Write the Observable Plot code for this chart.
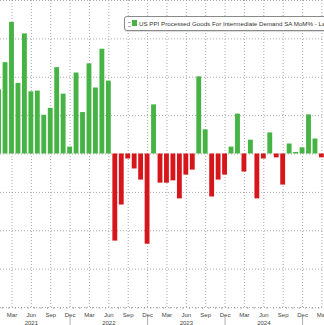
<!DOCTYPE html>
<html>
<head>
<meta charset="utf-8">
<script src="https://cdn.jsdelivr.net/npm/d3@7"></script>
<script src="https://cdn.jsdelivr.net/npm/@observablehq/plot@0.6"></script>
<style>
  html, body { margin: 0; padding: 0; background: #fff; overflow: hidden; width: 324px; height: 325px; }
  #wrap { position: relative; width: 324px; height: 325px; overflow: hidden; }
  #legend {
    position: absolute; left: 124px; top: 16px; width: 230px; height: 13px;
    border: 1px solid #8a8a8a; border-radius: 3px; background: #fff;
    font-family: "Liberation Sans", Arial, sans-serif; font-size: 6.2px; color: #333;
    white-space: nowrap; line-height: 13px; box-shadow: 0 1px 1px rgba(0,0,0,0.15);
  }
  #legend .ic { display: inline-block; width: 3px; height: 3px; border-top: 1px solid #aaa; border-bottom: 1px solid #aaa; margin: 0 1px 0 3px; vertical-align: middle; }
  #legend .sw { display: inline-block; width: 5px; height: 6px; background: #45b445; margin-right: 2px; vertical-align: middle; position: relative; top: -1px; }
</style>
</head>
<body>
<div id="wrap">
  <div id="chart"></div>
  <div id="legend"><span class="ic"></span><span class="sw"></span>US PPI Processed Goods For Intermediate Demand SA MoM% - Last</div>
</div>
<script>
// Months from Jan 2021 to Mar 2025
const startYear = 2021;
const values = [
  1.67, 2.38, 3.43, 1.84, 3.13, 1.62, 1.64, 1.01, 1.19, 2.25, 1.56, 0.18,   // 2021
  2.11, 1.08, 2.35, 1.72, 2.73, 1.90, -2.27, -1.33, -0.13, -0.39, -0.68, -2.35, // 2022
  1.28, -0.76, -0.76, -0.70, -1.17, -0.55, -0.42, 2.01, 0.63, -1.12, -0.68, -0.55, // 2023
  0.18, 1.04, -0.47, 0.36, -1.17, -0.13, 0.55, -0.10, -0.81, 0.26, 0.04, 0.16, // 2024
  1.02, 0.39, -0.10                                                             // 2025
];
const tickMonthNames = ["Mar", "Jun", "Sep", "Dec"];
const tickMonthIdx = [2, 5, 8, 11];
const yearLabels = ["2021", "2022", "2023", "2024"];
const gridValues = [-4, -3, -2, -1, 0, 1, 2, 3, 4];

const green = "#45b445";
const red = "#d7161b";

const data = values.map((v, i) => ({i, v}));
const ticks = [];
for (let y = 0; y < 5; y++) {
  tickMonthIdx.forEach((m, k) => {
    const i = y * 12 + m;
    if (i <= 50) ticks.push({i, label: tickMonthNames[k]});
  });
}
const years = yearLabels.map((t, k) => ({i: k * 12 + 5, label: t}));
const seps = yearLabels.slice(0, 4).map((t, k) => ({i: k * 12 + 11}));
const monthBounds = d3.range(0, 51).map(i => ({i: i + 0.5}));

const plot = Plot.plot({
  width: 324,
  height: 325,
  marginLeft: 0,
  marginRight: 0,
  marginTop: 0,
  marginBottom: 18,
  style: {background: "#fff", fontFamily: "Liberation Sans, Arial, sans-serif"},
  x: {type: "linear", domain: [0.22, 50.4], axis: null},
  y: {domain: [-4, 4], axis: null},
  marks: [
    Plot.ruleY(gridValues, {stroke: "#aaa", strokeDasharray: "1,2", strokeWidth: 1}),
    Plot.ruleX(ticks, {x: "i", y1: -4, y2: 4, stroke: "#aaa", strokeDasharray: "1,2", strokeWidth: 1}),
    Plot.rect(data, {
      x1: d => d.i - 0.5, x2: d => d.i + 0.5, y1: 0, y2: "v",
      fill: d => d.v >= 0 ? green : red,
      insetLeft: 0.8, insetRight: 0.8, clip: true
    }),
    Plot.ruleX(monthBounds, {x: "i", y1: -4, y2: -4.05, stroke: "#999", strokeWidth: 0.8}),
    Plot.text(ticks, {x: "i", y: -4, dy: 8, text: "label", fontSize: 6, fill: "#444"}),
    Plot.text(years, {x: "i", y: -4, dy: 15.5, text: "label", fontSize: 6, fill: "#444"}),
    Plot.ruleX(seps, {x: "i", y1: -4.25, y2: -4.5, stroke: "#999", strokeWidth: 0.8})
  ]
});
document.getElementById("chart").appendChild(plot);
</script>
</body>
</html>
